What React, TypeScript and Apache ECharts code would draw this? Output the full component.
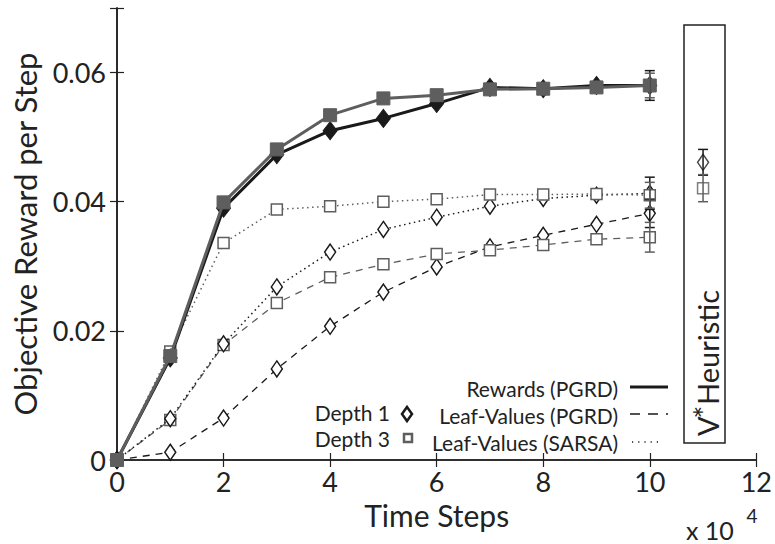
import React, { useEffect, useRef } from 'react';
import * as echarts from 'echarts';

// ---- data (x in units of 10^4 time steps) ----
const steps = [0, 1, 2, 3, 4, 5, 6, 7, 8, 9, 10];
const rewardsD1 = [0, 0.0158, 0.039, 0.0473, 0.051, 0.0529, 0.0552, 0.0577, 0.0575, 0.058, 0.058];
const rewardsD3 = [0, 0.0161, 0.0399, 0.0481, 0.0534, 0.056, 0.0565, 0.0574, 0.0575, 0.0577, 0.058];
const leafPgrdD1 = [0, 0.0012, 0.0065, 0.0141, 0.0207, 0.026, 0.0299, 0.033, 0.0348, 0.0365, 0.0382];
const leafPgrdD3 = [0, 0.0062, 0.0178, 0.0243, 0.0283, 0.0303, 0.0319, 0.0325, 0.0333, 0.0342, 0.0345];
const leafSarsaD1 = [0, 0.0064, 0.018, 0.0268, 0.0322, 0.0357, 0.0376, 0.0393, 0.0405, 0.041, 0.0413];
const leafSarsaD3 = [0, 0.0168, 0.0336, 0.0388, 0.0393, 0.04, 0.0404, 0.0411, 0.0411, 0.0412, 0.041];

// error bar half-widths at the last step
const finalErrRewardsD1 = 0.0023;
const finalErrRewardsD3 = 0.0019;
const finalErrPgrdD1 = 0.0022;
const finalErrPgrdD3 = 0.0023;
const finalErrSarsaD1 = 0.0025;
const finalErrSarsaD3 = 0.002;

// V* heuristic
const heuristicStep = 11;
const heuristicD1 = 0.0461;
const heuristicD1Err = 0.002;
const heuristicD3 = 0.0421;
const heuristicD3Err = 0.0021;

const xMin = 0, xMax = 12, xInterval = 2;
const yMin = 0, yMax = 0.07, yInterval = 0.02;

const legendLabels = ['Rewards (PGRD)', 'Leaf-Values (PGRD)', 'Leaf-Values (SARSA)'];
const depthLabels = ['Depth 1', 'Depth 3'];

const FONT = 'Lato, "Open Sans", sans-serif';
const BLACK = '#1a1a1a';
const GREY = '#5e5e5e';
const AXIS = '#222';

function lineSeries(name: string, values: number[], color: string, type: any, width: number,
  symbol: string, size: any, filled: boolean, z: number) {
  return {
    type: 'line', name, z, silent: true,
    data: steps.map((x, i) => [x, values[i]]),
    symbol, symbolSize: size, showSymbol: true,
    lineStyle: { color, width, type },
    itemStyle: { color: filled ? color : '#fff', borderColor: color, borderWidth: filled ? 1 : 1.5 },
  };
}

const last = steps.length - 1;
const errorBars = [
  [steps[last], rewardsD1[last], finalErrRewardsD1, 0],
  [steps[last], rewardsD3[last], finalErrRewardsD3, 1],
  [steps[last], leafPgrdD1[last], finalErrPgrdD1, 0],
  [steps[last], leafPgrdD3[last], finalErrPgrdD3, 1],
  [steps[last], leafSarsaD1[last], finalErrSarsaD1, 0],
  [steps[last], leafSarsaD3[last], finalErrSarsaD3, 1],
  [heuristicStep, heuristicD1, heuristicD1Err, 0],
  [heuristicStep, heuristicD3, heuristicD3Err, 1],
];

function buildOption() {
  const axisLine = { show: true, lineStyle: { color: AXIS, width: 1.6 } };
  const axisTick = { show: true, inside: true, length: 7, lineStyle: { color: AXIS, width: 1.2 } };
  const txt = (t: string, x: number, y: number, size: number, align: string, extra: any = {}) => ({
    type: 'text', x, y, silent: true, ...extra,
    style: {
      text: t, fill: AXIS, fontSize: size, fontFamily: FONT,
      align, textAlign: align, verticalAlign: 'middle', textVerticalAlign: 'middle',
    },
  });
  return {
    animation: false,
    backgroundColor: '#fff',
    grid: { left: 117, right: 17, top: 8, bottom: 84, containLabel: false },
    xAxis: [
      {
        type: 'value', min: xMin, max: xMax, interval: xInterval, position: 'bottom',
        axisLine, axisTick, splitLine: { show: false },
        axisLabel: { fontSize: 27, color: AXIS, fontFamily: FONT, margin: 8 },
        name: 'Time Steps', nameLocation: 'middle', nameGap: 40,
        nameTextStyle: { fontSize: 30, color: AXIS, fontFamily: FONT },
      },
      {
        type: 'value', min: xMin, max: xMax, interval: xInterval, position: 'top',
        axisLine, axisTick, splitLine: { show: false }, axisLabel: { show: false },
      },
    ],
    yAxis: [
      {
        type: 'value', min: yMin, max: yMax, interval: yInterval, position: 'left',
        axisLine, axisTick, splitLine: { show: false },
        axisLabel: {
          fontSize: 27, color: AXIS, fontFamily: FONT, margin: 11,
          formatter: (v: number) => (v === 0 ? '0' : v > 0.065 ? '' : v.toFixed(2)),
        },
        name: 'Objective Reward per Step', nameLocation: 'middle', nameGap: 77,
        nameTextStyle: { fontSize: 31, color: AXIS, fontFamily: FONT },
      },
      {
        type: 'value', min: yMin, max: yMax, interval: yInterval, position: 'right',
        axisLine, axisTick, splitLine: { show: false }, axisLabel: { show: false },
      },
    ],
    series: [
      lineSeries('Leaf-Values (PGRD) Depth 1', leafPgrdD1, BLACK, [7, 6], 1.3, 'diamond', [11, 16], false, 3),
      lineSeries('Leaf-Values (PGRD) Depth 3', leafPgrdD3, GREY, [7, 6], 1.3, 'rect', [11, 11], false, 3),
      lineSeries('Leaf-Values (SARSA) Depth 1', leafSarsaD1, BLACK, [1.5, 3.5], 1.5, 'diamond', [11, 16], false, 4),
      lineSeries('Leaf-Values (SARSA) Depth 3', leafSarsaD3, GREY, [1.5, 3.5], 1.5, 'rect', [11, 11], false, 4),
      lineSeries('Rewards (PGRD) Depth 1', rewardsD1, BLACK, 'solid', 3, 'diamond', [14, 18], true, 5),
      lineSeries('Rewards (PGRD) Depth 3', rewardsD3, GREY, 'solid', 3, 'rect', [13, 13], true, 6),
      {
        type: 'scatter', name: 'V* Depth 1', silent: true, z: 7,
        data: [[heuristicStep, heuristicD1]], symbol: 'diamond', symbolSize: [11, 16],
        itemStyle: { color: '#fff', borderColor: BLACK, borderWidth: 1.5 },
      },
      {
        type: 'scatter', name: 'V* Depth 3', silent: true, z: 7,
        data: [[heuristicStep, heuristicD3]], symbol: 'rect', symbolSize: [11, 11],
        itemStyle: { color: '#fff', borderColor: GREY, borderWidth: 1.5 },
      },
      {
        type: 'custom', name: 'error bars', silent: true, z: 8,
        data: errorBars,
        encode: { x: 0, y: 1 },
        renderItem: (_p: any, api: any) => {
          const x = api.value(0), y = api.value(1), e = api.value(2);
          const color = api.value(3) === 0 ? BLACK : GREY;
          const top = api.coord([x, y + e]);
          const bot = api.coord([x, y - e]);
          const hw = 5;
          const st = { stroke: color, lineWidth: 1.5 };
          return {
            type: 'group',
            children: [
              { type: 'line', shape: { x1: top[0], y1: top[1], x2: bot[0], y2: bot[1] }, style: st },
              { type: 'line', shape: { x1: top[0] - hw, y1: top[1], x2: top[0] + hw, y2: top[1] }, style: st },
              { type: 'line', shape: { x1: bot[0] - hw, y1: bot[1], x2: bot[0] + hw, y2: bot[1] }, style: st },
            ],
          };
        },
      },
    ],
    graphic: [
      // V* heuristic box
      { type: 'rect', silent: true, shape: { x: 684, y: 25, width: 41, height: 418 },
        style: { fill: 'none', stroke: AXIS, lineWidth: 1.5 } },
      txt('V', 707, 436, 29, 'left', { rotation: Math.PI / 2 }),
      txt('*', 704, 412, 30, 'center', { rotation: Math.PI / 2 }),
      txt('Heuristic', 707, 290, 29, 'right', { rotation: Math.PI / 2 }),
      // multiplier
      txt('x 10', 686, 530, 25, 'left'),
      txt('4', 752, 515, 19, 'center'),
      // legend
      txt(legendLabels[0], 618, 388, 21, 'right'),
      txt(legendLabels[1], 618, 415, 21, 'right'),
      txt(legendLabels[2], 618, 442, 21, 'right'),
      { type: 'line', silent: true, shape: { x1: 630, y1: 387, x2: 668, y2: 387 },
        style: { stroke: BLACK, lineWidth: 3 } },
      { type: 'line', silent: true, shape: { x1: 630, y1: 414, x2: 668, y2: 414 },
        style: { stroke: BLACK, lineWidth: 1.3, lineDash: [10, 8] } },
      { type: 'line', silent: true, shape: { x1: 632, y1: 442, x2: 662, y2: 442 },
        style: { stroke: BLACK, lineWidth: 1.3, lineDash: [1.2, 5] } },
      txt(depthLabels[0], 390, 412, 21, 'right'),
      txt(depthLabels[1], 390, 438, 21, 'right'),
      { type: 'polygon', silent: true,
        shape: { points: [[407, 407], [412, 414], [407, 421], [402, 414]] },
        style: { fill: '#fff', stroke: BLACK, lineWidth: 2.5 } },
      { type: 'rect', silent: true, shape: { x: 404, y: 434, width: 8, height: 8 },
        style: { fill: '#fff', stroke: GREY, lineWidth: 2.5 } },
    ],
  };
}

export default function App() {
  const ref = useRef<HTMLDivElement>(null);
  useEffect(() => {
    if (!ref.current) return;
    const chart = echarts.init(ref.current, null, { renderer: 'svg' });
    chart.setOption(buildOption() as any);
    return () => chart.dispose();
  }, []);
  return (
    <div
      ref={ref}
      style={{ position: 'fixed', left: 0, top: 0, width: 775, height: 544, background: '#fff' }}
    />
  );
}
